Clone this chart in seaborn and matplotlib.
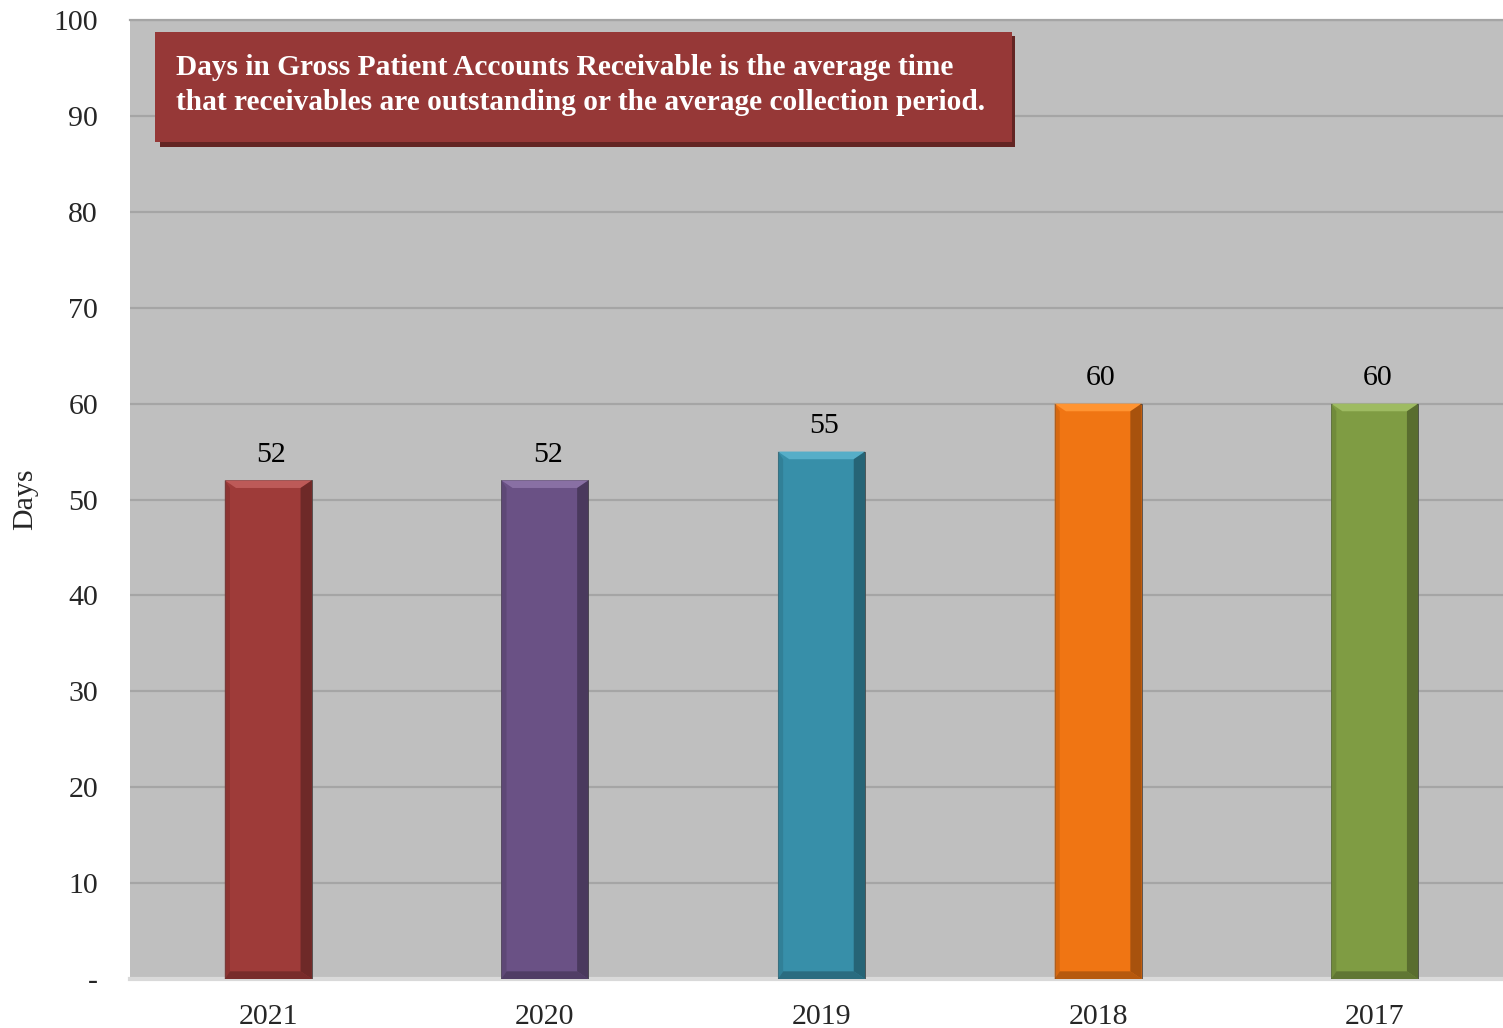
import matplotlib
matplotlib.use("Agg")
import matplotlib.pyplot as plt
import matplotlib.patches as mpatches
import seaborn as sns
import pandas as pd
import numpy as np

years = ["2021", "2020", "2019", "2018", "2017"]
days = [52, 52, 55, 60, 60]
bar_colors = ["#9e3b39", "#6a5185", "#378fa9", "#f07513", "#7f9c43"]
y_ticks = [0, 10, 20, 30, 40, 50, 60, 70, 80, 90, 100]
y_tick_labels = ["-", "10", "20", "30", "40", "50", "60", "70", "80", "90", "100"]
note_text = ("Days in Gross Patient Accounts Receivable is the average time\n"
             "that receivables are outstanding or the average collection period.")

sns.set_theme(style="white")
plt.rcParams["font.family"] = ["Liberation Serif", "DejaVu Serif"]

df = pd.DataFrame({"Year": years, "Days": days})

W, H = 1503, 1028
fig = plt.figure(figsize=(W / 100, H / 100), dpi=100)
ax = fig.add_axes([130 / W, 1 - 979 / H, (1513 - 130) / W, (979 - 20) / H])
ax.set_facecolor("#bfbfbf")

sns.barplot(data=df, x="Year", y="Days", hue="Year", palette=bar_colors,
            width=0.315, legend=False, ax=ax, saturation=1, zorder=3,
            edgecolor="#4a4a4a", linewidth=0.6)

ax.set_ylim(0, 100)
ax.set_xlim(-0.5, 4.5)
ax.set_yticks(y_ticks)
ax.set_yticklabels(y_tick_labels, fontsize=21.5)
ax.tick_params(axis="x", labelsize=21.5, length=0, pad=18)
ax.tick_params(axis="y", length=0, pad=23)
ax.yaxis.grid(True, color="#a5a5a5", linewidth=1.6, zorder=0)
ax.set_axisbelow(True)
for side in ["left", "right"]:
    ax.spines[side].set_visible(False)
ax.spines["top"].set_color("#a5a5a5")
ax.spines["top"].set_linewidth(1.6)
ax.spines["bottom"].set_color("#d9d9d9")
ax.spines["bottom"].set_linewidth(3)
ax.set_xlabel("")
ax.set_ylabel("Days", fontsize=21.5, labelpad=11)

# bevel shading derived from each bar patch
for p, c in zip(ax.patches, bar_colors):
    x0, w, h = p.get_x(), p.get_width(), p.get_height()
    rgb = np.array(matplotlib.colors.to_rgb(c))
    light = np.clip(rgb + 0.12, 0, 1)
    dark = rgb * 0.5
    bev = 0.8
    top = mpatches.Polygon([[x0, h], [x0 + w, h], [x0 + w * 0.87, h - bev], [x0 + w * 0.13, h - bev]],
                           closed=True, facecolor=light, edgecolor="none", zorder=4)
    right = mpatches.Polygon([[x0 + w, h], [x0 + w, 0], [x0 + w * 0.87, bev], [x0 + w * 0.87, h - bev]],
                             closed=True, facecolor=dark, edgecolor="none", zorder=4, alpha=0.6)
    left = mpatches.Polygon([[x0, h], [x0, 0], [x0 + w * 0.06, bev], [x0 + w * 0.06, h - bev]],
                            closed=True, facecolor=rgb * 0.85, edgecolor="none", zorder=4, alpha=0.7)
    bottom = mpatches.Polygon([[x0, 0], [x0 + w, 0], [x0 + w * 0.87, bev], [x0 + w * 0.06, bev]],
                              closed=True, facecolor=rgb * 0.7, edgecolor="none", zorder=4, alpha=0.8)
    for poly in (top, right, left, bottom):
        ax.add_patch(poly)
    ax.annotate(f"{h:.0f}", (x0 + w / 2, h), xytext=(2, 9), textcoords="offset points",
                ha="center", va="bottom", fontsize=21.5, color="black", zorder=5,
                bbox=dict(boxstyle="square,pad=0.25", facecolor="#bfbfbf", edgecolor="none"))

# annotation box
shadow = mpatches.Rectangle((160 / W, 1 - 147 / H), (1015 - 160) / W, (147 - 36) / H,
                            transform=fig.transFigure, facecolor="#632523", edgecolor="none", zorder=5)
box = mpatches.Rectangle((155 / W, 1 - 142 / H), (1012 - 155) / W, (142 - 32) / H,
                         transform=fig.transFigure, facecolor="#963837", edgecolor="none", zorder=6)
fig.patches.extend([shadow, box])
fig.text(176 / W, 1 - 85 / H, note_text, fontsize=21.2, fontweight="bold", color="white",
         ha="left", va="center", linespacing=1.36, zorder=7)

fig.savefig("out.png", dpi=100, facecolor="white")
